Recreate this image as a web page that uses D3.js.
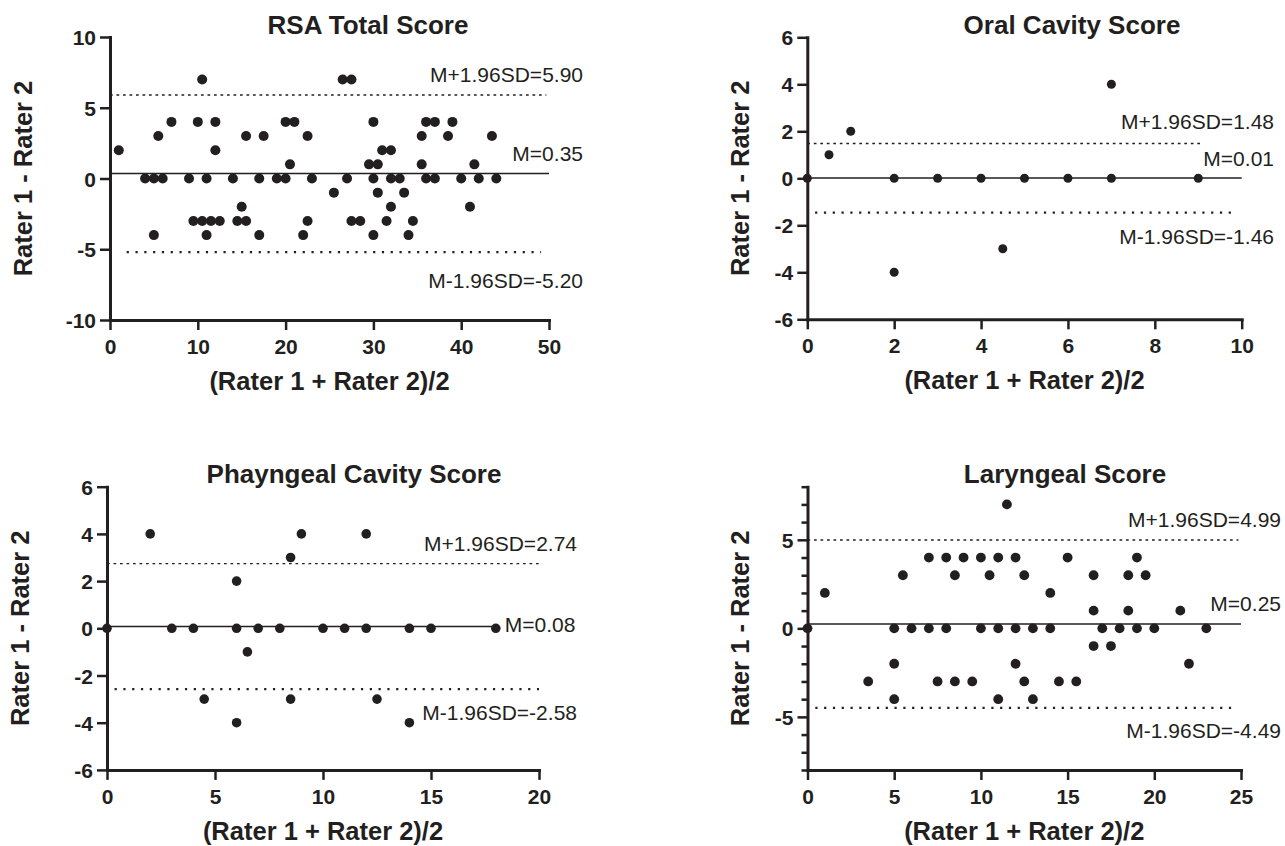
<!DOCTYPE html>
<html>
<head>
<meta charset="utf-8">
<script src="https://cdn.jsdelivr.net/npm/d3@7"></script>
<style>
  html, body { margin: 0; padding: 0; background: #ffffff; }
  svg { display: block; }
</style>
</head>
<body>
<svg id="chart" width="1285" height="846"></svg>
<script>
// ---------------- DATA ----------------
const panelTitles = ["RSA Total Score", "Oral Cavity Score", "Phayngeal Cavity Score", "Laryngeal Score"];
const xAxisTitle = "(Rater 1 + Rater 2)/2";
const yAxisTitle = "Rater 1 - Rater 2";

const meanValues  = [0.35, 0.01, 0.08, 0.25];
const upperValues = [5.90, 1.48, 2.74, 4.99];
const lowerValues = [-5.20, -1.46, -2.58, -4.49];
const meanLabels  = ["M=0.35", "M=0.01", "M=0.08", "M=0.25"];
const upperLabels = ["M+1.96SD=5.90", "M+1.96SD=1.48", "M+1.96SD=2.74", "M+1.96SD=4.99"];
const lowerLabels = ["M-1.96SD=-5.20", "M-1.96SD=-1.46", "M-1.96SD=-2.58", "M-1.96SD=-4.49"];

const xDomains = [[0, 50], [0, 10], [0, 20], [0, 25]];
const yDomains = [[-10, 10], [-6, 6], [-6, 6], [-8, 8]];
const xTicks = [[0, 10, 20, 30, 40, 50], [0, 2, 4, 6, 8, 10], [0, 5, 10, 15, 20], [0, 5, 10, 15, 20, 25]];
const yTicks = [[-10, -5, 0, 5, 10], [-6, -4, -2, 0, 2, 4, 6], [-6, -4, -2, 0, 2, 4, 6], [-5, 0, 5]];
const yMinorTicks = [[], [], [], [-8, -7, -6, -4, -3, -2, -1, 1, 2, 3, 4, 6, 7, 8]];

// Bland-Altman points: [mean of raters, difference]
const rsaPoints = [
  [1, 2], [4, 0], [5, 0], [5, -4], [5.5, 3], [6, 0], [7, 4], [9, 0], [9.5, -3],
  [10, 4], [10.5, 7], [10.5, -3], [11, 0], [11, -4], [11.5, -3], [12, 4], [12, 2], [12.5, -3],
  [14, 0], [14.5, -3], [15, -2], [15.5, 3], [15.5, -3], [17, 0], [17, -4], [17.5, 3],
  [19, 0], [20, 4], [20, 0], [20.5, 1], [21, 4], [22, -4], [22.5, 3], [22.5, -3], [23, 0],
  [25.5, -1], [26.5, 7], [27, 0], [27.5, 7], [27.5, -3], [28.5, -3], [29.5, 1],
  [30, 4], [30, 0], [30, -4], [30.5, 1], [30.5, -1], [31, 2], [31.5, -3], [32, 2], [32, 0], [32, -2],
  [33, 0], [33.5, -1], [34, -4], [34.5, -3], [35.5, 3], [35.5, 1], [36, 4], [36, 0], [37, 4], [37, 0],
  [38.5, 3], [39, 4], [40, 0], [41, -2], [41.5, 1], [42, 0], [43.5, 3], [44, 0]
];
const oralPoints = [
  [0, 0], [0.5, 1], [1, 2], [2, 0], [2, -4], [3, 0], [4, 0], [4.5, -3], [5, 0], [6, 0], [7, 0], [7, 4], [9, 0]
];
const pharyngealPoints = [
  [0, 0], [2, 4], [3, 0], [4, 0], [4.5, -3], [6, 2], [6, 0], [6, -4], [6.5, -1], [7, 0], [8, 0],
  [8.5, 3], [8.5, -3], [9, 4], [10, 0], [11, 0], [12, 4], [12, 0], [12.5, -3], [14, 0], [14, -4], [15, 0], [18, 0]
];
const laryngealPoints = [
  [0, 0], [1, 2], [3.5, -3], [5, 0], [5, -2], [5, -4], [5.5, 3], [6, 0], [7, 4], [7, 0], [7.5, -3],
  [8, 4], [8, 0], [8.5, 3], [8.5, -3], [9, 4], [9.5, -3], [10, 4], [10, 0], [10.5, 3], [11, 4], [11, 0], [11, -4],
  [11.5, 7], [12, 4], [12, 0], [12, -2], [12.5, 3], [12.5, -3], [13, 0], [13, -4], [14, 2], [14, 0], [14.5, -3],
  [15, 4], [15.5, -3], [16.5, 3], [16.5, 1], [16.5, -1], [17, 0], [17.5, -1], [18, 0], [18.5, 3], [18.5, 1],
  [19, 4], [19, 0], [19.5, 3], [20, 0], [21.5, 1], [22, -2], [23, 0]
];
const panelPoints = [rsaPoints, oralPoints, pharyngealPoints, laryngealPoints];

// ---------------- LAYOUT (pixels / styling) ----------------
const layout = [
  { x0: 110, x1: 549, yTop: 37, yBot: 320, titleX: 368, ytitleX: 31.5, r: 5,
    upperExt: [0, 49.7], meanExt: [0, 50], lowerExt: [1.9, 49.1],
    labelEnd: 583, upperDy: -13.3, meanDy: -13, lowerDy: 35.7, meanInline: false },
  { x0: 807.3, x1: 1241.7, yTop: 37.3, yBot: 319.3, titleX: 1072, ytitleX: 749, r: 4.5,
    upperExt: [0, 9.07], meanExt: [0, 10], lowerExt: [0.18, 9.85],
    labelEnd: 1274, upperDy: -14.4, meanDy: -12, lowerDy: 31.3, meanInline: false },
  { x0: 107, x1: 539, yTop: 486.7, yBot: 769.9, titleX: 354, ytitleX: 28.5, r: 4.8,
    upperExt: [0, 20], meanExt: [0, 18], lowerExt: [0.35, 20],
    labelEnd: 577, upperDy: -12.3, meanDy: -1.5, lowerDy: 30.8, meanInline: true },
  { x0: 807.5, x1: 1241, yTop: 486.7, yBot: 770, titleX: 1065, ytitleX: 749, r: 4.9,
    upperExt: [0, 24.85], meanExt: [0, 25], lowerExt: [0.45, 24.6],
    labelEnd: 1281, upperDy: -13, meanDy: -12.5, lowerDy: 30.4, meanInline: false }
];

const INK = "#231f20";
const FONT = "Arial, 'Liberation Sans', Helvetica, sans-serif";
const tickFmt = d => String(d);   // plain hyphen-minus like the reference

const svg = d3.select("#chart");

panelTitles.forEach((title, i) => {
  const L = layout[i];
  const g = svg.append("g");
  const x = d3.scaleLinear().domain(xDomains[i]).range([L.x0, L.x1]);
  const y = d3.scaleLinear().domain(yDomains[i]).range([L.yBot, L.yTop]);

  // reference lines
  const hline = (ext, val) => g.append("line")
    .attr("x1", x(ext[0])).attr("x2", x(ext[1]))
    .attr("y1", y(val)).attr("y2", y(val))
    .attr("stroke", INK);

  hline(L.upperExt, upperValues[i]).attr("stroke-width", 1.4).attr("stroke-dasharray", "2.7,3.8");
  hline(L.lowerExt, lowerValues[i]).attr("stroke-width", 2.3).attr("stroke-dasharray", "2.2,6.6");
  hline(L.meanExt, meanValues[i]).attr("stroke-width", 1.5);

  // axes
  const xAxis = d3.axisBottom(x).tickValues(xTicks[i]).tickSize(10).tickSizeOuter(0).tickPadding(9)
    .tickFormat(tickFmt);
  const gx = g.append("g").attr("transform", `translate(0,${L.yBot})`).call(xAxis);

  const yAxis = d3.axisLeft(y).tickValues(yTicks[i]).tickSize(10).tickSizeOuter(0).tickPadding(4)
    .tickFormat(tickFmt);
  const gy = g.append("g").attr("transform", `translate(${L.x0},0)`).call(yAxis);

  if (yMinorTicks[i].length) {
    const yMinor = d3.axisLeft(y).tickValues(yMinorTicks[i]).tickSize(6).tickSizeOuter(0).tickFormat("");
    const gm = g.append("g").attr("transform", `translate(${L.x0},0)`).call(yMinor);
    gm.select(".domain").remove();
    gm.selectAll(".tick line").attr("stroke", INK).attr("stroke-width", 2.5);
  }

  [gx, gy].forEach(a => {
    a.select(".domain").attr("stroke", INK).attr("stroke-width", 3).attr("stroke-linecap", "square");
    a.selectAll(".tick line").attr("stroke", INK).attr("stroke-width", 2.5);
    a.selectAll(".tick text")
      .attr("fill", INK)
      .style("font-family", FONT)
      .style("font-weight", "bold")
      .style("font-size", "21px");
  });
  gy.selectAll(".tick text").attr("dy", "0.36em");

  // points
  g.append("g").selectAll("circle")
    .data(panelPoints[i])
    .join("circle")
    .attr("cx", d => x(d[0]))
    .attr("cy", d => y(d[1]))
    .attr("r", L.r)
    .attr("fill", INK);

  // labels of reference lines
  const label = (txt) => g.append("text").text(txt)
    .attr("fill", INK)
    .style("font-family", FONT)
    .style("font-size", "21px");

  label(upperLabels[i]).attr("text-anchor", "end").attr("x", L.labelEnd).attr("y", y(upperValues[i]) + L.upperDy);
  if (L.meanInline) {
    label(meanLabels[i]).attr("text-anchor", "start").attr("x", x(L.meanExt[1]) + 9)
      .attr("y", y(meanValues[i]) + L.meanDy).attr("dy", "0.35em");
  } else {
    label(meanLabels[i]).attr("text-anchor", "end").attr("x", L.labelEnd).attr("y", y(meanValues[i]) + L.meanDy);
  }
  label(lowerLabels[i]).attr("text-anchor", "end").attr("x", L.labelEnd).attr("y", y(lowerValues[i]) + L.lowerDy);

  // titles
  g.append("text").text(title)
    .attr("x", L.titleX).attr("y", L.yTop - 3.5)
    .attr("text-anchor", "middle").attr("fill", INK)
    .style("font-family", FONT).style("font-weight", "bold").style("font-size", "26px");

  g.append("text").text(xAxisTitle)
    .attr("x", (L.x0 + L.x1) / 2).attr("y", L.yBot + 70)
    .attr("text-anchor", "middle").attr("fill", INK)
    .style("font-family", FONT).style("font-weight", "bold").style("font-size", "25.5px");

  g.append("text").text(yAxisTitle)
    .attr("transform", `translate(${L.ytitleX},${(L.yTop + L.yBot) / 2}) rotate(-90)`)
    .attr("text-anchor", "middle").attr("fill", INK)
    .style("font-family", FONT).style("font-weight", "bold").style("font-size", "25.5px");
});
</script>
</body>
</html>
